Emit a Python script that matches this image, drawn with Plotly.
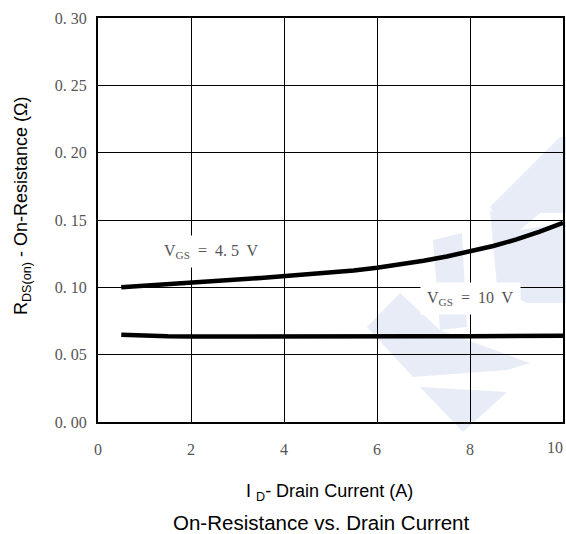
import plotly.graph_objects as go

# data
id_45 = [0.5, 1, 1.5, 2, 2.5, 3, 3.5, 4, 4.5, 5, 5.5, 6, 6.5, 7, 7.5, 8, 8.5, 9, 9.5, 10]
r_45 = [0.1000, 0.1010, 0.1022, 0.1035, 0.1047, 0.1058, 0.1070, 0.1082, 0.1095, 0.1108, 0.1125,
        0.1146, 0.1170, 0.1197, 0.1229, 0.1265, 0.1307, 0.1356, 0.1413, 0.1479]
id_10 = [0.5, 1, 1.5, 2, 3, 4, 5, 6, 7, 8, 9, 10]
r_10 = [0.0648, 0.0640, 0.0636, 0.0634, 0.0633, 0.0633, 0.0634, 0.0635, 0.0636, 0.0637, 0.0638, 0.0640]
x_ticks = [0, 2, 4, 6, 8, 10]
x_ticktext = ["0", "2", "4", "6", "8", ""]
x_last_label = "10"
y_ticks = [0.00, 0.05, 0.10, 0.15, 0.20, 0.25, 0.30]
y_ticktext = ["0. 00", "0. 05", "0. 10", "0. 15", "0. 20", "0. 25", "0. 30"]

W, H = 566, 534
L, R, T, B = 98, 3, 18, 112
pw, ph = W - L - R, H - T - B


def px(x, y):
    return (x - L) / pw, (H - B - y) / ph


def path(pts):
    s = ""
    for i, (x, y) in enumerate(pts):
        a, b = px(x, y)
        s += ("M" if i == 0 else "L") + f"{a:.4f},{b:.4f} "
    return s + "Z"


wm = [
    [(490, 207), (560, 137), (566, 137), (566, 213), (540, 213), (520, 230), (507, 230)],
    [(433, 240), (462, 233), (467, 327), (440, 330)],
    [(490, 210), (520, 230), (566, 223), (566, 303), (527, 303), (497, 287)],
    [(367, 327), (400, 293), (440, 330), (530, 363), (507, 370), (413, 377)],
    [(420, 387), (507, 392), (463, 432)],
]
shapes = [dict(type="path", xref="paper", yref="paper", path=path(p),
               fillcolor="rgb(231,236,247)", line=dict(width=0), layer="below")
          for p in wm]

fig = go.Figure()
fig.add_trace(go.Scatter(x=id_45, y=r_45, mode="lines", line=dict(color="black", width=4.5),
                         showlegend=False))
fig.add_trace(go.Scatter(x=id_10, y=r_10, mode="lines", line=dict(color="black", width=4.5),
                         showlegend=False))

serif = dict(family="Liberation Serif, DejaVu Serif, serif", size=16, color="#555555")
sans = "Liberation Sans, Arial, sans-serif"
fig.add_annotation(x=2.45, y=0.1265, text="V<sub>GS</sub>  =  4. 5  V", showarrow=False,
                   bgcolor="white", font=serif, borderpad=6)
fig.add_annotation(x=8.0, y=0.0915, text="V<sub>GS</sub>  =  10  V", showarrow=False,
                   bgcolor="white", font=serif, borderpad=6)
fig.add_annotation(x=px(555, 447)[0], y=px(555, 447)[1], xref="paper", yref="paper",
                   text=x_last_label, xanchor="center", yanchor="middle", showarrow=False, font=serif)

fig.add_annotation(x=px(329, 492)[0], y=px(329, 492)[1], xref="paper", yref="paper",
                   text="I <sub>D</sub>- Drain Current (A)", xanchor="center", yanchor="middle",
                   showarrow=False, font=dict(family=sans, size=18, color="black"))
fig.add_annotation(x=px(321, 522)[0], y=px(321, 522)[1], xref="paper", yref="paper",
                   text="On-Resistance vs. Drain Current", xanchor="center", yanchor="middle",
                   showarrow=False, font=dict(family=sans, size=20.5, color="black"))
fig.add_annotation(x=px(22, 206)[0], y=px(22, 206)[1], xref="paper", yref="paper",
                   text="R<sub>DS(on)</sub> - On-Resistance (Ω)", textangle=-90,
                   xanchor="center", yanchor="middle",
                   showarrow=False, font=dict(family=sans, size=18, color="black"))

fig.update_layout(
    width=W, height=H, margin=dict(l=L, r=R, t=T, b=B, autoexpand=False),
    paper_bgcolor="white", plot_bgcolor="rgba(0,0,0,0)",
    shapes=shapes,
)
fig.update_xaxes(range=[0, 10], tickvals=x_ticks, ticktext=x_ticktext, showgrid=True, gridcolor="black",
                 gridwidth=1, showline=True, linecolor="black", linewidth=2, mirror=True, zeroline=False,
                 ticks="", tickfont=serif, ticklabelstandoff=12)
fig.update_yaxes(range=[0, 0.30], tickvals=y_ticks, ticktext=y_ticktext, showgrid=True, gridcolor="black",
                 gridwidth=1, showline=True, linecolor="black", linewidth=2, mirror=True, zeroline=False,
                 ticks="", tickfont=serif, ticklabelstandoff=6)

fig.write_html("out.html")
